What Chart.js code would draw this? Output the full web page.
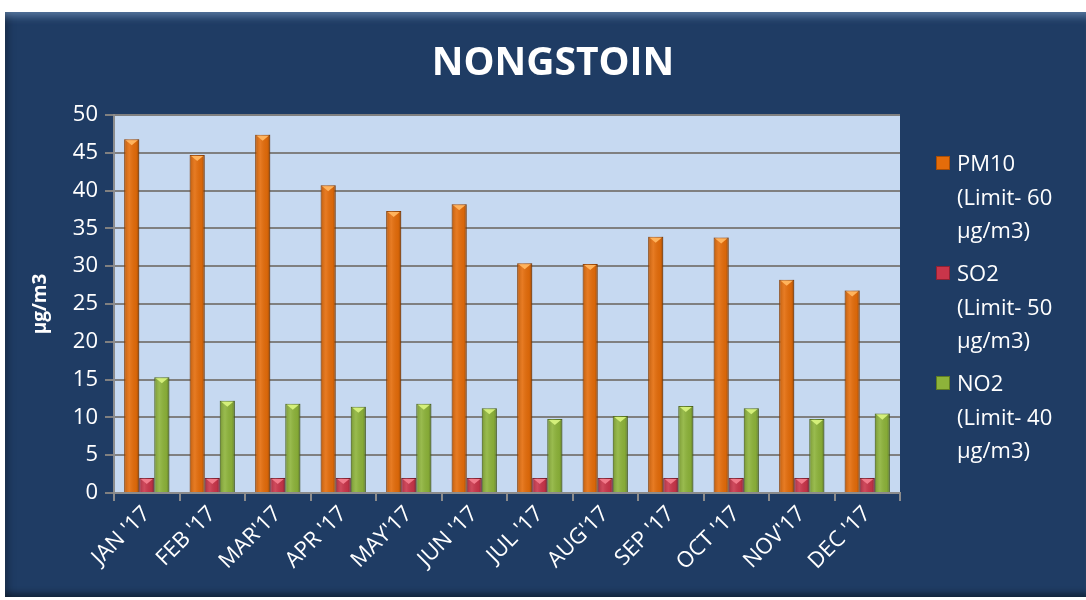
<!DOCTYPE html>
<html>
<head>
<meta charset="utf-8">
<script src="https://cdn.jsdelivr.net/npm/chart.js@4.4.0/dist/chart.umd.min.js"></script>
<style>
    html, body { margin: 0; padding: 0; background: #ffffff; }
    #marco {
        position: absolute; left: 5px; top: 12px; width: 1081px; height: 585px;
        background: #1f3c64;
        box-shadow: inset 0 10px 8px -6px rgba(140, 175, 215, 0.55), inset 8px 0 8px -6px rgba(0, 0, 0, 0.35), inset 0 -8px 6px -4px rgba(0, 0, 0, 0.4);
    }
    #lienzo { position: absolute; left: 0; top: 0; }
    #leyenda {
        position: absolute; left: 936px; top: 146px;
        font-family: "Open Sans", sans-serif; font-size: 22px; color: #ffffff; line-height: 33.5px;
    }
    .item { position: relative; padding-left: 21px; margin-bottom: 9.5px; }
    .caja { position: absolute; left: 0; top: 10px; width: 14px; height: 14px; }
</style>
</head>
<body>
<div id="marco"></div>
<canvas id="lienzo" width="1086" height="600"></canvas>
<div id="leyenda"></div>
<script>
const titulo = "NONGSTOIN";
const meses = ["JAN '17", "FEB '17", "MAR'17", "APR '17", "MAY'17", "JUN '17", "JUL '17", "AUG'17", "SEP '17", "OCT '17", "NOV'17", "DEC '17"];
const pm10 = [46.8, 44.7, 47.4, 40.7, 37.3, 38.2, 30.4, 30.3, 33.9, 33.8, 28.2, 26.8];
const so2 = [2, 2, 2, 2, 2, 2, 2, 2, 2, 2, 2, 2];
const no2 = [15.3, 12.2, 11.8, 11.4, 11.8, 11.2, 9.8, 10.2, 11.5, 11.2, 9.8, 10.5];
const nombresSeries = [
    ["PM10", "(Limit- 60", "µg/m3)"],
    ["SO2", "(Limit- 50", "µg/m3)"],
    ["NO2", "(Limit- 40", "µg/m3)"],
];
const ticksY = [0, 5, 10, 15, 20, 25, 30, 35, 40, 45, 50];

const colores = ["#e46c0a", "#c9354a", "#8db33a"];
const bordes = ["#a84e06", "#8e2233", "#5f7d22"];
const brillos = ["#ffb35c", "#f27a8a", "#d4ef7a"];

// fondo celeste del area del grafico
const fondoArea = {
    id: "fondoArea",
    beforeDraw(chart) {
        const { ctx, chartArea: a } = chart;
        ctx.save();
        ctx.fillStyle = "#c6d9f1";
        ctx.fillRect(a.left, a.top, a.right - a.left, a.bottom - a.top);
        ctx.restore();
    },
};

// sombreado tipo 3D sobre cada barra, usando las posiciones que calcula Chart.js
const relieve = {
    id: "relieve",
    afterDatasetsDraw(chart) {
        const ctx = chart.ctx;
        ctx.save();
        chart.data.datasets.forEach((ds, i) => {
            chart.getDatasetMeta(i).data.forEach((barra) => {
                const izq = barra.x - barra.width / 2;
                const alto = barra.base - barra.y;
                const g = ctx.createLinearGradient(izq, 0, izq + barra.width, 0);
                g.addColorStop(0, "rgba(0,0,0,0.18)");
                g.addColorStop(0.35, "rgba(255,255,255,0.10)");
                g.addColorStop(0.8, "rgba(0,0,0,0.05)");
                g.addColorStop(1, "rgba(0,0,0,0.30)");
                ctx.fillStyle = g;
                ctx.fillRect(izq, barra.y, barra.width, alto);
                // punta clara en la parte de arriba
                const punta = Math.min(barra.width * 0.4, alto);
                ctx.fillStyle = brillos[i];
                ctx.beginPath();
                ctx.moveTo(izq + 1.5, barra.y + 1);
                ctx.lineTo(izq + barra.width - 1.5, barra.y + 1);
                ctx.lineTo(barra.x, barra.y + punta);
                ctx.closePath();
                ctx.fill();
            });
        });
        ctx.restore();
    },
};

// titulo centrado en todo el marco, no solo sobre el area
const tituloCentrado = {
    id: "tituloCentrado",
    afterDraw(chart) {
        const ctx = chart.ctx;
        ctx.save();
        ctx.fillStyle = "#ffffff";
        ctx.font = "bold 39px 'Open Sans'";
        ctx.textAlign = "center";
        ctx.textBaseline = "middle";
        ctx.fillText(titulo, 553, 64);
        ctx.restore();
    },
};

const ctx = document.getElementById("lienzo").getContext("2d");
const grafico = new Chart(ctx, {
    type: "bar",
    data: {
        labels: meses,
        datasets: [pm10, so2, no2].map((serie, i) => ({
            label: nombresSeries[i].join(" "),
            data: serie,
            backgroundColor: colores[i],
            borderColor: bordes[i],
            borderWidth: 1,
            categoryPercentage: 0.69,
            barPercentage: 1,
        })),
    },
    options: {
        responsive: false,
        animation: false,
        layout: { padding: { left: 20, right: 186, top: 115, bottom: 3 } },
        plugins: {
            legend: { display: false },
            tooltip: { enabled: false },
        },
        scales: {
            x: {
                grid: { offset: true, drawOnChartArea: false, drawTicks: true, tickLength: 8, color: "#8c8c8c", lineWidth: 2 },
                border: { color: "#8c8c8c", width: 2 },
                ticks: {
                    color: "#ffffff",
                    font: { family: "Open Sans", size: 22 },
                    maxRotation: 45,
                    minRotation: 45,
                    padding: 0,
                },
                afterFit(scale) { scale.height = 104; },
            },
            y: {
                min: 0,
                max: 50,
                afterBuildTicks(scale) { scale.ticks = ticksY.map((v) => ({ value: v })); },
                grid: { color: "#808080", lineWidth: 2, tickLength: 9 },
                border: { color: "#8c8c8c", width: 2 },
                ticks: { color: "#ffffff", font: { family: "Open Sans", size: 22 }, padding: 7 },
                title: {
                    display: true,
                    text: "µg/m3",
                    color: "#ffffff",
                    font: { family: "Open Sans", size: 19, weight: "bold" },
                    padding: { top: 9, bottom: 0 },
                },
                afterFit(scale) { scale.width = 94; },
            },
        },
    },
    plugins: [fondoArea, relieve, tituloCentrado],
});

// leyenda en html con lineas partidas
const leyenda = document.getElementById("leyenda");
nombresSeries.forEach((lineas, i) => {
    const item = document.createElement("div");
    item.className = "item";
    item.innerHTML = `<span class="caja" style="background:${colores[i]};border:1px solid ${bordes[i]};box-sizing:border-box"></span>${lineas.join("<br>")}`;
    leyenda.appendChild(item);
});
</script>
</body>
</html>
